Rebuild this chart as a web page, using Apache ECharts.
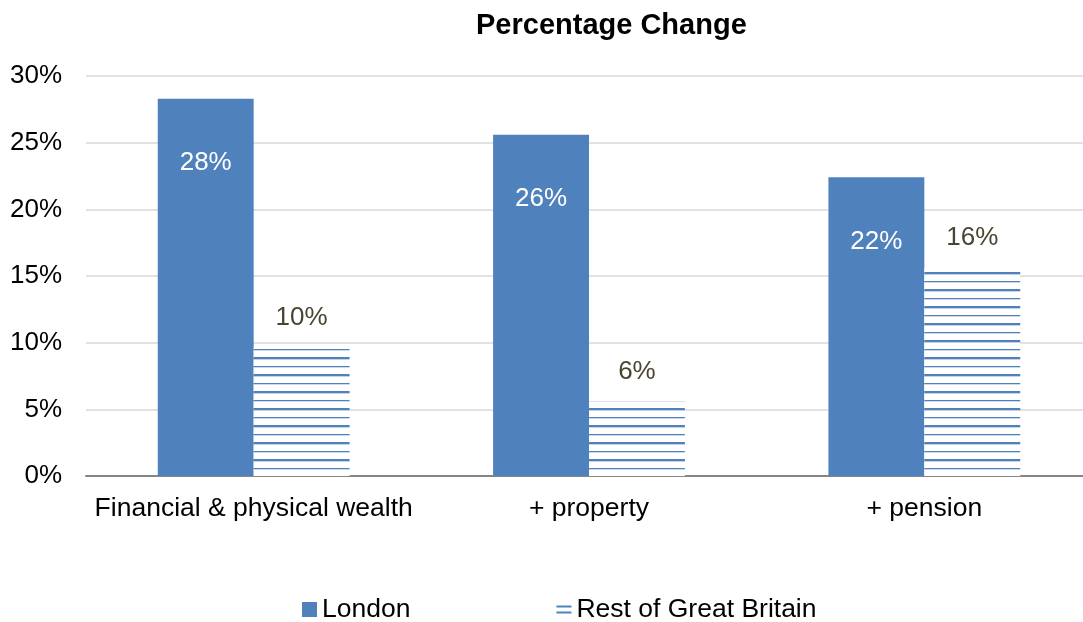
<!DOCTYPE html>
<html>
<head>
<meta charset="utf-8">
<script src="https://cdn.jsdelivr.net/npm/echarts@6/dist/echarts.min.js"></script>
<style>
html,body{margin:0;padding:0;background:#fff;overflow:hidden;}
#chart{width:1092px;height:622px;}
</style>
</head>
<body>
<div id="chart"></div>
<script>
const categories = ['Financial & physical wealth', '+ property', '+ pension'];
const londonValues = [28.3, 25.6, 22.4];
const restValues = [9.6, 5.6, 15.6];
const yTicks = { min: 0, max: 30, interval: 5 };
const seriesNames = ['London', 'Rest of Great Britain'];

const BLUE = '#4f81bd';
const FONT = '"Liberation Sans", Arial, sans-serif';

function makePattern() {
  const c = document.createElement('canvas');
  c.width = 8; c.height = 17;
  const ctx = c.getContext('2d');
  ctx.fillStyle = '#ffffff';
  ctx.fillRect(0, 0, 8, 17);
  ctx.fillStyle = BLUE;
  ctx.fillRect(0, 0, 8, 2);
  ctx.fillStyle = 'rgba(79,129,189,0.35)';
  ctx.fillRect(0, 2, 8, 1);
  ctx.fillStyle = BLUE;
  ctx.fillRect(0, 9, 8, 1);
  ctx.fillStyle = 'rgba(79,129,189,0.3)';
  ctx.fillRect(0, 10, 8, 1);
  return c;
}

const chart = echarts.init(document.getElementById('chart'), null, { renderer: 'canvas' });
chart.setOption({
  animation: false,
  backgroundColor: '#fff',
  textStyle: { fontFamily: FONT },
  title: {
    text: 'Percentage Change',
    left: 471,
    top: 6,
    textStyle: { fontFamily: FONT, fontSize: 29, fontWeight: 'bold', color: '#000' }
  },
  legend: {
    left: 297,
    top: 591,
    itemWidth: 15,
    itemHeight: 15,
    itemGap: 146,
    textStyle: { fontFamily: FONT, fontSize: 26.5, color: '#000' },
    data: [
      { name: seriesNames[0], icon: 'rect', itemStyle: { color: BLUE } },
      { name: seriesNames[1], icon: 'path://M0,0H15V2H0Z M0,6H15V8H0Z', itemStyle: { color: BLUE } }
    ]
  },
  grid: { left: 86, top: 76, right: 0, bottom: 146, containLabel: false },
  xAxis: {
    type: 'category',
    data: categories,
    axisTick: { show: false },
    axisLine: { lineStyle: { color: '#868686', width: 2 } },
    axisLabel: { fontFamily: FONT, fontSize: 26.5, color: '#000', margin: 19, interval: 0 }
  },
  yAxis: {
    type: 'value',
    min: yTicks.min,
    max: yTicks.max,
    interval: yTicks.interval,
    axisLine: { show: false },
    axisTick: { show: false },
    splitLine: { lineStyle: { color: '#d9d9d9', width: 1.5 } },
    axisLabel: { fontFamily: FONT, fontSize: 26, color: '#000', margin: 24, formatter: '{value}%' }
  },
  series: [
    {
      name: seriesNames[0],
      type: 'bar',
      data: londonValues,
      barGap: '0%',
      barCategoryGap: '42.8%',
      itemStyle: { color: BLUE },
      label: {
        show: true,
        position: 'insideTop',
        distance: 51,
        fontFamily: FONT,
        fontSize: 26,
        color: '#fff',
        formatter: p => Math.round(p.value) + '%'
      }
    },
    {
      name: seriesNames[1],
      type: 'bar',
      data: restValues,
      itemStyle: { color: { image: makePattern(), repeat: 'repeat' } },
      label: {
        show: true,
        position: 'top',
        distance: 17,
        fontFamily: FONT,
        fontSize: 26,
        color: '#4a4530',
        formatter: p => Math.round(p.value) + '%'
      }
    }
  ]
});
</script>
</body>
</html>
